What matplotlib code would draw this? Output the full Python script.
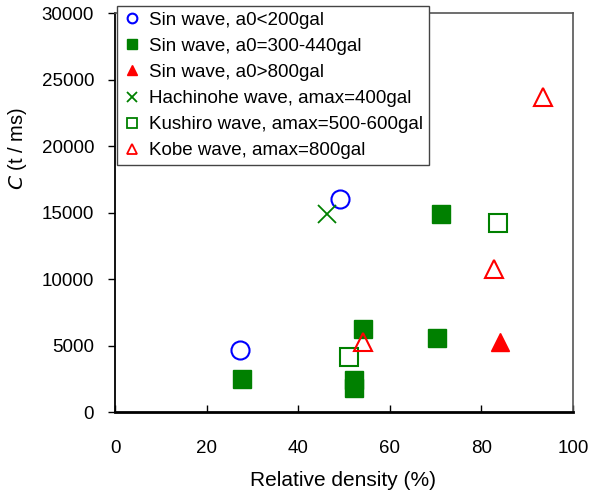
import matplotlib
matplotlib.use("Agg")
import matplotlib.pyplot as plt
from matplotlib.lines import Line2D

plt.rcParams['font.family'] = ['Liberation Sans', 'DejaVu Sans']

# Data (relative density %, C t/ms)
sin_low_x = [27.3, 49.1]
sin_low_y = [4700, 16000]
sin_mid_x = [27.7, 54.1, 52.2, 52.2, 71.2, 70.4]
sin_mid_y = [2500, 6300, 2400, 1850, 14900, 5600]
sin_high_x = [84.1]
sin_high_y = [5300]
hachinohe_x = [46.4]
hachinohe_y = [14900]
kushiro_x = [51.0, 83.6]
kushiro_y = [4150, 14200]
kobe_x = [54.1, 82.8, 93.4]
kobe_y = [5300, 10800, 23700]

labels = ["Sin wave, a0<200gal", "Sin wave, a0=300-440gal", "Sin wave, a0>800gal",
          "Hachinohe wave, amax=400gal", "Kushiro wave, amax=500-600gal",
          "Kobe wave, amax=800gal"]

blue = '#0000FF'
green = '#008000'
red = '#FF0000'

fig = plt.figure(figsize=(5.9, 5.0), dpi=100)
ax = fig.add_axes([0.195, 0.1754, 0.776, 0.798])

ms = 13
ax.plot(sin_low_x, sin_low_y, 'o', ms=ms, mfc='none', mec=blue, mew=1.5, ls='none')
ax.plot(sin_mid_x, sin_mid_y, 's', ms=ms, mfc=green, mec=green, ls='none')
ax.plot(sin_high_x, sin_high_y, '^', ms=ms, mfc=red, mec=red, ls='none')
ax.plot(hachinohe_x, hachinohe_y, 'x', ms=ms, mec=green, mew=1.3, ls='none')
ax.plot(kushiro_x, kushiro_y, 's', ms=ms, mfc='none', mec=green, mew=1.5, ls='none')
ax.plot(kobe_x, kobe_y, '^', ms=ms, mfc='none', mec=red, mew=1.5, ls='none')

ax.set_xlim(0, 100)
ax.set_ylim(0, 30000)
ax.set_xticks([0, 20, 40, 60, 80, 100])
ax.set_yticks([0, 5000, 10000, 15000, 20000, 25000, 30000])

ax.tick_params(axis='x', direction='in', length=5, width=1, pad=20, labelsize=13.5)
ax.tick_params(axis='y', direction='out', length=5, width=1, pad=10, labelsize=13.5)

for s in ['top', 'right']:
    ax.spines[s].set_color('#555555')
    ax.spines[s].set_linewidth(1.2)
ax.spines['left'].set_linewidth(1.3)
ax.spines['bottom'].set_linewidth(2.0)

ax.set_xlabel("Relative density (%)", fontsize=15)
ax.xaxis.set_label_coords((343 - 115) / 458, (412.3 - 471) / 399)
ax.set_ylabel(r"$\it{C}$ (t / ms)", fontsize=14.5)
ax.yaxis.set_label_coords((29 - 115) / 458, (412.3 - 149) / 399)

handles = [
    Line2D([], [], marker='o', ls='none', ms=7, mfc='none', mec=blue, mew=1.5),
    Line2D([], [], marker='s', ls='none', ms=7, mfc=green, mec=green),
    Line2D([], [], marker='^', ls='none', ms=7, mfc=red, mec=red),
    Line2D([], [], marker='x', ls='none', ms=7, mec=green, mew=1.3),
    Line2D([], [], marker='s', ls='none', ms=7, mfc='none', mec=green, mew=1.3),
    Line2D([], [], marker='^', ls='none', ms=7, mfc='none', mec=red, mew=1.3),
]
leg = fig.legend(handles, labels, loc='upper left', bbox_to_anchor=(117 / 590, 1 - 6 / 500),
                 fontsize=13.5, frameon=True, fancybox=False, framealpha=1,
                 edgecolor='#444444', handlelength=1.0, handletextpad=0.4,
                 labelspacing=0.48, borderpad=0.3, borderaxespad=0)
leg.get_frame().set_linewidth(1.0)

fig.savefig("out.png", dpi=100)
